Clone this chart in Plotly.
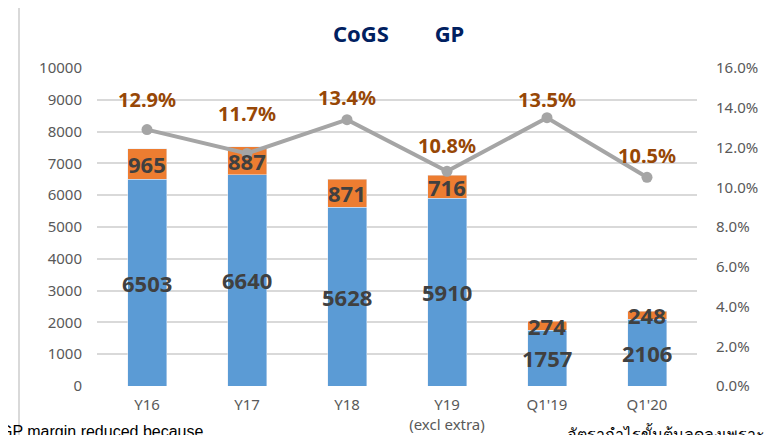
import plotly.graph_objects as go

categories = ["Y16", "Y17", "Y18", "Y19<br>(excl extra)", "Q1'19", "Q1'20"]
cogs = [6503, 6640, 5628, 5910, 1757, 2106]
gp = [965, 887, 871, 716, 274, 248]
gp_margin = [12.9, 11.7, 13.4, 10.8, 13.5, 10.5]

blue = "#5B9BD5"
orange = "#ED7D31"
grey_line = "#A5A5A5"
label_col = "#404040"
pct_col = "#974706"
tick_col = "#595959"
num_font = "Noto Sans"

fig = go.Figure()
fig.add_trace(go.Bar(x=categories, y=cogs, name="CoGS", marker_color=blue, width=0.39))
fig.add_trace(go.Bar(x=categories, y=gp, name="GP", marker_color=orange, width=0.39))
fig.add_trace(go.Scatter(x=categories, y=[v / 100 for v in gp_margin], yaxis="y2",
                         mode="lines+markers", line=dict(color=grey_line, width=4),
                         marker=dict(color=grey_line, size=11), name="GP%"))

annotations = []
for c, a, b in zip(categories, cogs, gp):
    annotations.append(dict(x=c, y=a / 2, xref="x", yref="y", text=str(a), showarrow=False,
                            font=dict(family=num_font, size=22, color=label_col, weight="bold")))
    annotations.append(dict(x=c, y=a + b / 2, xref="x", yref="y", text=str(b), showarrow=False,
                            font=dict(family=num_font, size=22, color=label_col, weight="bold")))

# label lift above each margin point
lifts = [30, 40, 22, 26, 18, 22]
for c, m, s in zip(categories, gp_margin, lifts):
    annotations.append(dict(x=c, y=m / 100, xref="x", yref="y2", text=f"{m:.1f}%", showarrow=False,
                            yshift=s, font=dict(family=num_font, size=20, color=pct_col, weight="bold")))

annotations.append(dict(x=0.502, y=1.11, xref="paper", yref="paper", showarrow=False,
                        text="CoGS&nbsp;&nbsp;&nbsp;&nbsp;&nbsp;&nbsp;&nbsp;&nbsp;GP",
                        xanchor="center", yanchor="middle",
                        font=dict(family=num_font, size=22, color="#002060", weight="bold")))
annotations.append(dict(x=-0.165, y=-0.11, xref="paper", yref="paper", showarrow=False,
                        text="GP margin reduced because", xanchor="left", yanchor="top",
                        font=dict(family="Liberation Sans", size=16, color="#000000")))
annotations.append(dict(x=0.78, y=-0.11, xref="paper", yref="paper", showarrow=False,
                        text="อัตรากำไรขั้นต้นลดลงเพราะ", xanchor="left", yanchor="top",
                        font=dict(family="Noto Sans", size=16, color="#000000")))

fig.update_layout(
    barmode="stack",
    width=766, height=427,
    margin=dict(l=89, r=77, t=60, b=49),
    paper_bgcolor="white", plot_bgcolor="white",
    showlegend=False,
    annotations=annotations,
    xaxis=dict(showgrid=False, showline=False, ticks="", ticklabelstandoff=8, automargin=False,
               tickfont=dict(family=num_font, size=15, color=tick_col)),
    yaxis=dict(range=[0, 10000], dtick=1000, tickformat="d", showgrid=True, gridcolor="#D9D9D9",
               gridwidth=1.5, zeroline=False, ticks="", ticklabelstandoff=14, automargin=False,
               tickfont=dict(family=num_font, size=15, color=tick_col)),
    yaxis2=dict(range=[0, 0.16], dtick=0.02, tickformat=".1%", overlaying="y", side="right",
                showgrid=False, zeroline=False, ticks="", ticklabelstandoff=18, automargin=False,
                tickfont=dict(family=num_font, size=15, color=tick_col)),
    shapes=[
        dict(type="line", xref="paper", yref="paper", x0=-0.13, x1=-0.13, y0=-0.3, y1=1.205,
             line=dict(color="#D9D9D9", width=2)),
        dict(type="line", xref="paper", yref="paper", x0=-0.13, x1=1.2, y0=1.205, y1=1.205,
             line=dict(color="#D9D9D9", width=2)),
    ],
)

fig.write_html("out.html")
